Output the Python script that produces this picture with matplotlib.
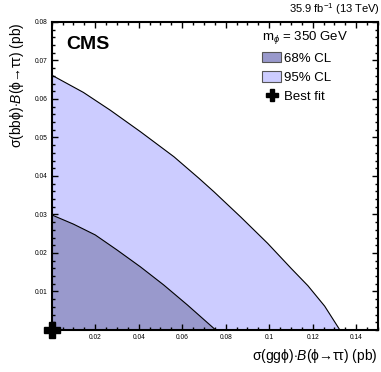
import numpy as np
import matplotlib
matplotlib.use("Agg")
import matplotlib.pyplot as plt
from matplotlib.patches import Patch
from matplotlib.lines import Line2D
from matplotlib.ticker import MultipleLocator, FixedLocator

plt.rcParams['font.family'] = ['Liberation Sans', 'DejaVu Sans']
plt.rcParams['mathtext.fontset'] = 'custom'
plt.rcParams['mathtext.rm'] = 'Liberation Sans'
plt.rcParams['mathtext.it'] = 'Liberation Sans:italic'
plt.rcParams['mathtext.bf'] = 'Liberation Sans:bold'

# 95% CL contour (x = sigma(gg phi) B, y = sigma(bb phi) B) in pb
cl95_x = [0.0, 0.0146, 0.0269, 0.0408, 0.0562, 0.0677, 0.0746, 0.0870,
          0.0993, 0.1101, 0.1178, 0.1255, 0.1325]
cl95_y = [0.0662, 0.0617, 0.0571, 0.0515, 0.0450, 0.0394, 0.0359, 0.0293,
          0.0225, 0.0160, 0.0115, 0.0062, 0.0]

# 68% CL contour
cl68_x = [0.0, 0.0100, 0.0200, 0.0300, 0.0408, 0.0515, 0.0624, 0.0754]
cl68_y = [0.0299, 0.0275, 0.0247, 0.0208, 0.0164, 0.0117, 0.0065, 0.0]

best_fit = (0.0, 0.0)

col95 = '#ccccff'
col68 = '#9999cc'

fig = plt.figure(figsize=(3.81, 3.72), dpi=100)
ax = fig.add_axes([0.1357, 0.1129, 0.8563, 0.828])

x95 = np.array(cl95_x + [0.0])
y95 = np.array(cl95_y + [0.0])
ax.fill(x95, y95, color=col95, lw=0)
ax.plot(cl95_x, cl95_y, color='black', lw=0.8)

x68 = np.array(cl68_x + [0.0])
y68 = np.array(cl68_y + [0.0])
ax.fill(x68, y68, color=col68, lw=0)
ax.plot(cl68_x, cl68_y, color='black', lw=0.8)

ax.plot(*best_fit, marker='P', color='black', markersize=11, clip_on=False, zorder=10)

ax.set_xlim(0, 0.15)
ax.set_ylim(0, 0.08)
ax.xaxis.set_major_locator(FixedLocator([0.02, 0.04, 0.06, 0.08, 0.1, 0.12, 0.14]))
ax.xaxis.set_minor_locator(MultipleLocator(0.005))
ax.yaxis.set_major_locator(FixedLocator([0.01, 0.02, 0.03, 0.04, 0.05, 0.06, 0.07, 0.08]))
ax.yaxis.set_minor_locator(MultipleLocator(0.002))
ax.set_xticklabels(['0.02', '0.04', '0.06', '0.08', '0.1', '0.12', '0.14'])
ax.set_yticklabels(['0.01', '0.02', '0.03', '0.04', '0.05', '0.06', '0.07', '0.08'])
ax.tick_params(which='both', direction='in', top=True, right=True, width=1, labelsize=4.8)
ax.tick_params(which='major', length=4.5, pad=3)
ax.tick_params(which='minor', length=2.5)
for s in ax.spines.values():
    s.set_linewidth(1.5)

ax.set_xlabel(r'σ(ggϕ)$\cdot\mathit{B}$(ϕ→ττ) (pb)', loc='right', fontsize=10, labelpad=4)
ax.set_ylabel(r'σ(bbϕ)$\cdot\mathit{B}$(ϕ→ττ) (pb)', loc='top', fontsize=10, labelpad=6)

ax.text(0.045, 0.955, 'CMS', transform=ax.transAxes, fontsize=14, fontweight='bold',
        va='top', ha='left')
fig.text(0.997, 0.955, r'35.9 fb$^{-1}$ (13 TeV)', fontsize=8, ha='right', va='bottom')

handles = [Patch(facecolor=col68, edgecolor='#555555', lw=0.8),
           Patch(facecolor=col95, edgecolor='#555555', lw=0.8),
           Line2D([], [], marker='P', color='black', ls='none', markersize=9)]
leg = ax.legend(handles, ['68% CL', '95% CL', 'Best fit'], title=r'm$_{\phi}$ = 350 GeV',
                loc='upper left', bbox_to_anchor=(0.625, 1.0), frameon=False,
                fontsize=9.5, title_fontsize=9.5, handlelength=1.45, handleheight=0.8,
                handletextpad=0.2, labelspacing=0.5, borderpad=0.0)
leg._legend_box.align = 'left'

fig.savefig('out.png', dpi=100)
